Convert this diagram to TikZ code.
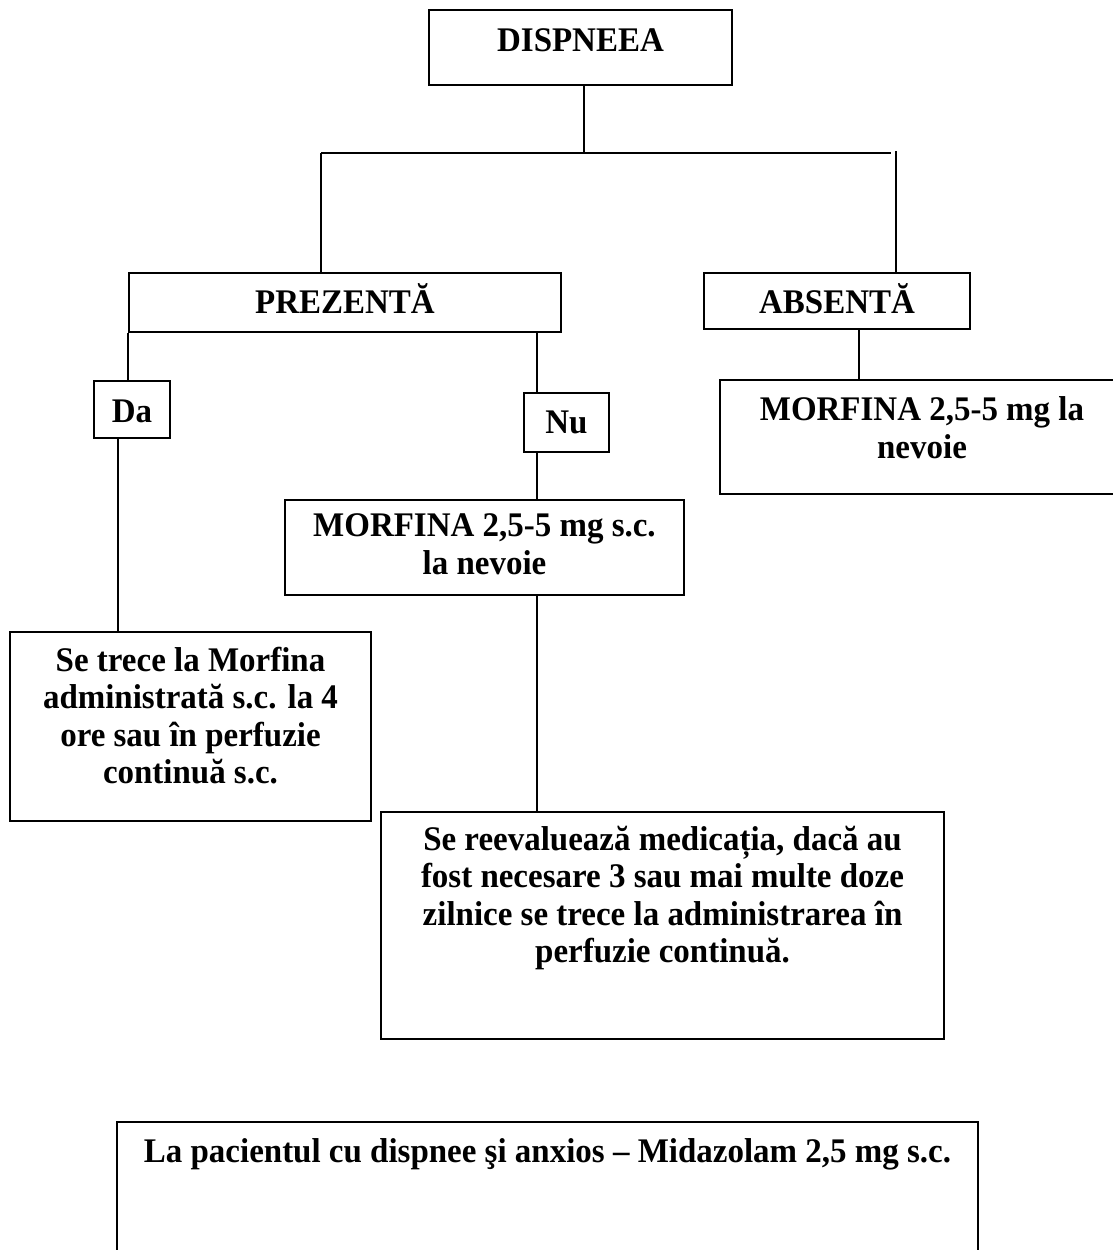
\documentclass[tikz,border=0pt]{standalone}
\usepackage{fontspec}
\setmainfont{Liberation Serif}
\newfontfamily\boxfont[FakeStretch=0.955]{Liberation Serif}
\begin{document}
\begin{tikzpicture}[x=0.75pt,y=-0.75pt,
  box/.style={draw,line width=1.5pt,rectangle,inner sep=0pt},
  conn/.style={line width=1.5pt},
  txt/.style={inner sep=0pt,align=center,font=\boxfont\fontsize{25.9}{28.125}\selectfont\bfseries},
  mtxt/.style={txt,anchor=north,execute at begin node=\strut},
  stxt/.style={txt,anchor=base}]
\useasboundingbox[fill=white] (0,0) rectangle (1113,1250);
% boxes
\node[box,minimum width=227.25pt,minimum height=56.25pt] (dis) at (580.5,47.5) {};
\node[box,minimum width=324pt,minimum height=44.25pt] (prez) at (345,302.5) {};
\node[box,minimum width=199.5pt,minimum height=42pt] (abs) at (837,301) {};
\node[box,minimum width=57pt,minimum height=42.75pt] (da) at (132,409.5) {};
\node[box,minimum width=63.75pt,minimum height=44.25pt] (nu) at (566.5,422.5) {};
\node[box,minimum width=299.25pt,minimum height=71.25pt] (morfb) at (484.5,547.5) {};
\node[box,minimum width=303pt,minimum height=85.5pt] (morfc) at (922,437) {};
\node[box,minimum width=270.75pt,minimum height=141.75pt] (trece) at (190.5,726.5) {};
\node[box,minimum width=422.25pt,minimum height=170.25pt] (reev) at (662.5,925.5) {};
\draw[conn] (117,1262) -- (117,1122) -- (978,1122) -- (978,1262);
% texts
\node[stxt] (tdis) at (580.5,51) {DISPNEEA};
\node[stxt] (tprez) at (345,313) {PREZENTĂ};
\node[stxt] (tabs) at (837,313) {ABSENTĂ};
\node[stxt] (tda) at (132,422) {Da};
\node[stxt] (tnu) at (566.5,433) {Nu};
\node[mtxt] (tmorfc) at (922,396.75) {MORFINA 2,5-5 mg la\\nevoie};
\node[mtxt] (tmorfb) at (484.5,513.75) {MORFINA 2,5-5 mg s.c.\\la nevoie};
\node[mtxt] (ttrece) at (190.5,646.75) {Se trece la Morfina\\administrată s.c. la 4\\ore sau în perfuzie\\continuă s.c.};
\node[mtxt] (treev) at (662.5,825.75) {Se reevaluează medicația, dacă au\\fost necesare 3 sau mai multe doze\\zilnice se trece la administrarea în\\perfuzie continuă.};
\node[stxt] (tbot) at (547.5,1162) {La pacientul cu dispnee şi anxios – Midazolam 2,5 mg s.c.};
% connectors
\coordinate (j) at (584,153);
\coordinate (jl) at (321,153);
\coordinate (jr) at (891,153);
\coordinate (jr2) at (896,151);
\coordinate (cn) at (537,0);
\coordinate (cd) at (118,0);
\coordinate (ca) at (859,0);
\draw[conn] (j |- dis.south) -- (j);
\draw[conn] (jl) -- (jr);
\draw[conn] (jl) -- (jl |- prez.north);
\draw[conn] (jr2) -- (jr2 |- abs.north);
\draw[conn] (prez.south west) -- (prez.south west |- da.north);
\draw[conn] (cn |- prez.south) -- (cn |- nu.north);
\draw[conn] (cn |- nu.south) -- (cn |- morfb.north);
\draw[conn] (cn |- morfb.south) -- (cn |- reev.north);
\draw[conn] (cd |- da.south) -- (cd |- trece.north);
\draw[conn] (ca |- abs.south) -- (ca |- morfc.north);
\end{tikzpicture}
\end{document}
